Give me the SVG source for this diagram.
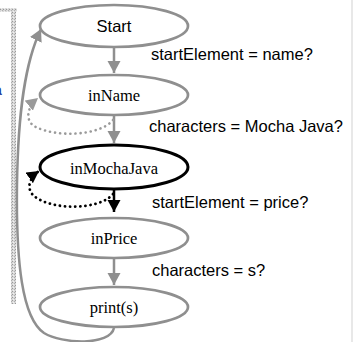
<svg xmlns="http://www.w3.org/2000/svg" width="359" height="342" viewBox="0 0 359 342">
<style>
.node ellipse{fill:#fff;stroke:#8f8f8f;stroke-width:2.7}
.node.active ellipse{stroke:#000;stroke-width:3}
.sans{font-family:"Liberation Sans",Arial,sans-serif;font-size:16.5px;fill:#000}
.serif{font-family:"Liberation Serif","Times New Roman",serif;font-size:16.5px;fill:#000;text-anchor:middle}
.g{fill:none;stroke:#8f8f8f;stroke-width:2.5}
.b{fill:none;stroke:#000;stroke-width:2.5}
.gdot{fill:none;stroke:#9a9a9a;stroke-width:2.6;stroke-dasharray:0.1 5;stroke-linecap:round}
.bdot{fill:none;stroke:#000;stroke-width:2.8;stroke-dasharray:0.1 5;stroke-linecap:round}
</style>
<defs>
<pattern id="tex" width="3" height="3" patternUnits="userSpaceOnUse">
<rect width="3" height="3" fill="#d8d8d8"/>
<rect width="1" height="1" fill="#9a9a9a"/>
<rect x="2" y="1" width="1" height="1" fill="#b0b0b0"/>
<rect x="1" y="2" width="1" height="1" fill="#f0f0f0"/>
</pattern>
<marker id="ag" markerUnits="userSpaceOnUse" markerWidth="14" markerHeight="14" refX="12" refY="6.5" orient="auto">
<path d="M0,0 L12,6.5 L0,13 Z" fill="#8f8f8f"/>
</marker>
<marker id="agd" markerUnits="userSpaceOnUse" markerWidth="14" markerHeight="14" refX="12" refY="6.5" orient="auto">
<path d="M0,0 L12,6.5 L0,13 Z" fill="#9a9a9a"/>
</marker>
<marker id="ab" markerUnits="userSpaceOnUse" markerWidth="14" markerHeight="14" refX="12" refY="6.5" orient="auto">
<path d="M0,0 L12,6.5 L0,13 Z" fill="#000"/>
</marker>
</defs>
<rect width="359" height="342" fill="#fff"/>
<rect x="351" y="0" width="2" height="342" fill="#e8e8e8"/>
<rect x="0" y="8" width="17" height="4" fill="url(#tex)"/>
<rect x="11" y="8" width="5" height="296" fill="url(#tex)"/>
<text x="-6" y="95" style="font-family:'Liberation Sans',Arial,sans-serif;font-size:14px;font-weight:bold;fill:#1f3c99">a</text>
<g id="connectors">
<path class="g" d="M114,47 L114,73" marker-end="url(#ag)"/>
<path class="g" d="M114,116 L114,143" marker-end="url(#ag)"/>
<path class="b" d="M114,190 L114,212" marker-end="url(#ab)"/>
<path class="g" d="M114,259 L114,285" marker-end="url(#ag)"/>
<path class="gdot" d="M113,120 C100,136 55,138 34,126 C25,120 27,107 38,98" marker-end="url(#agd)"/>
<path class="bdot" d="M113,194 C100,210 52,211 34,196 C26,189 29,178 39,171" marker-end="url(#ab)"/>
<path class="g" d="M114,328 C110,346 62,344 44,333 C22,318 16,262 17,185 C18,112 25,62 41,29" marker-end="url(#ag)"/>
<text class="sans" x="151" y="60">startElement = name?</text>
<text class="sans" x="149" y="132">characters = Mocha Java?</text>
<text class="sans" x="152" y="208">startElement = price?</text>
<text class="sans" x="152" y="276">characters = s?</text>
</g>
<g id="start" class="node"><ellipse cx="114" cy="26" rx="74" ry="21"/><text class="sans" x="114" y="32" text-anchor="middle">Start</text></g>
<g id="inName" class="node"><ellipse cx="114" cy="95" rx="74" ry="20"/><text class="serif" x="114" y="101">inName</text></g>
<g id="inMochaJava" class="node active"><ellipse cx="114" cy="167" rx="74" ry="22"/><text class="serif" x="114" y="174">inMochaJava</text></g>
<g id="inPrice" class="node"><ellipse cx="114" cy="238" rx="74" ry="20"/><text class="serif" x="114" y="244">inPrice</text></g>
<g id="print" class="node"><ellipse cx="114" cy="307" rx="74" ry="20"/><text class="serif" x="114" y="313">print(s)</text></g>
</svg>
